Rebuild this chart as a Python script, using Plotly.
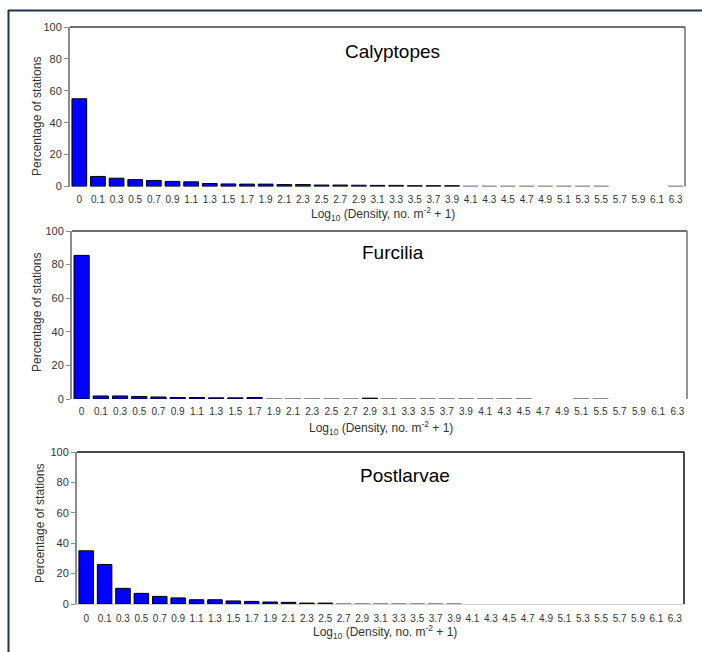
import plotly.graph_objects as go

W, H = 702, 652

# ---- data ----
cats_full = ["0", "0.1", "0.3", "0.5", "0.7", "0.9", "1.1", "1.3", "1.5", "1.7", "1.9",
             "2.1", "2.3", "2.5", "2.7", "2.9", "3.1", "3.3", "3.5", "3.7", "3.9",
             "4.1", "4.3", "4.5", "4.7", "4.9", "5.1", "5.3", "5.5", "5.7", "5.9", "6.1", "6.3"]
cats_furcilia = ["0", "0.1", "0.3", "0.5", "0.7", "0.9", "1.1", "1.3", "1.5", "1.7", "1.9",
                 "2.1", "2.3", "2.5", "2.7", "2.9", "3.1", "3.3", "3.5", "3.7", "3.9",
                 "4.1", "4.3", "4.5", "4.7", "4.9", "5.1", "5.5", "5.7", "5.9", "6.1", "6.3"]

calyptopes = [55, 6.3, 5.2, 4.3, 3.8, 3.2, 2.9, 1.9, 1.6, 1.5, 1.5,
              1.2, 1.2, 0.9, 0.9, 0.8, 0.7, 0.7, 0.5, 0.5, 0.5,
              0.3, 0.3, 0.3, 0.3, 0.3, 0.3, 0.3, 0.3, 0, 0, 0, 0.3]
furcilia = [85.5, 1.8, 1.8, 1.5, 1.2, 0.9, 0.9, 0.7, 0.7, 0.9, 0.3,
            0.3, 0.3, 0.3, 0.2, 0.5, 0.3, 0.3, 0.3, 0.3, 0.3,
            0.3, 0.3, 0.3, 0, 0, 0.3, 0.3, 0, 0, 0, 0]
postlarvae = [35, 26, 10.3, 7, 5, 4, 2.8, 2.8, 2, 1.7, 1.3,
              1.1, 0.6, 0.6, 0.2, 0.2, 0.2, 0.2, 0.2, 0.2, 0.2,
              0, 0, 0, 0, 0, 0, 0, 0, 0, 0, 0, 0]

titles = ["Calyptopes", "Furcilia", "Postlarvae"]
y_ticks = [0, 20, 40, 60, 80, 100]

# ---- layout geometry (pixels) ----
panels = [
    dict(cats=cats_full, vals=calyptopes, x0=70, x1=685, ytop=27, ybot=186.5,
         title=(392, 52), ytitle=(37, 117), xtitle=(383, 214)),
    dict(cats=cats_furcilia, vals=furcilia, x0=72, x1=687, ytop=231, ybot=399,
         title=(393, 252), ytitle=(37, 313), xtitle=(381, 428)),
    dict(cats=cats_full, vals=postlarvae, x0=77, x1=684, ytop=452, ybot=604,
         title=(405, 475), ytitle=(40, 524), xtitle=(385, 632)),
]

def px(x):
    return x / W

def py(y):
    return 1 - y / H

fig = go.Figure()
FONT = "Liberation Sans, Arial, sans-serif"
shapes = []
annotations = []

for i, p in enumerate(panels):
    n = "" if i == 0 else str(i + 1)
    xa, ya = "x" + n, "y" + n
    vals = p["vals"]
    line_w = [0 if v == 0 else 1 for v in vals]
    line_c = ["#8a8a8a" if v < 0.4 else "#000000" for v in vals]
    fig.add_trace(go.Bar(
        x=p["cats"], y=vals, xaxis=xa, yaxis=ya,
        marker=dict(color="#0000FF", line=dict(color=line_c, width=line_w)),
        showlegend=False, hoverinfo="x+y",
    ))
    fig.layout["xaxis" + n] = dict(
        domain=[px(p["x0"]), px(p["x1"])], anchor=ya, type="category",
        categoryorder="array", categoryarray=p["cats"],
        showgrid=False, zeroline=False, showline=(i == 2),
        linecolor="#d0d0d0", linewidth=1,
        ticks="", tickfont=dict(family=FONT, size=10, color="#333333"),
        tickangle=0, ticklabelstandoff=5, fixedrange=True,
    )
    fig.layout["yaxis" + n] = dict(
        domain=[py(p["ybot"]), py(p["ytop"])], anchor=xa,
        range=[0, 100], tickvals=y_ticks, showgrid=False, zeroline=False,
        showline=True, linecolor="#8c8c8c", linewidth=2,
        ticks="outside", ticklen=4, tickcolor="#8c8c8c",
        tickfont=dict(family=FONT, size=11, color="#333333"), fixedrange=True,
    )
    # top and right frame lines
    shapes.append(dict(type="line", xref=xa + " domain", yref=ya + " domain",
                       x0=0, x1=1, y0=1, y1=1,
                       line=dict(color="#404040" if i < 2 else "#111111", width=1.5)))
    shapes.append(dict(type="line", xref=xa + " domain", yref=ya + " domain",
                       x0=1, x1=1, y0=0, y1=1,
                       line=dict(color="#707070" if i < 2 else "#111111", width=1.5)))
    # panel title
    tx, ty = p["title"]
    annotations.append(dict(text=titles[i], x=px(tx), y=py(ty), xref="paper", yref="paper",
                            showarrow=False, xanchor="center", yanchor="middle",
                            font=dict(family=FONT, size=19, color="#000000")))
    # y title
    yx, yy = p["ytitle"]
    annotations.append(dict(text="Percentage of stations", x=px(yx), y=py(yy),
                            xref="paper", yref="paper", showarrow=False, textangle=-90,
                            xanchor="center", yanchor="middle",
                            font=dict(family=FONT, size=12, color="#333333")))
    # x title
    xx, xy = p["xtitle"]
    annotations.append(dict(text="Log<sub>10</sub> (Density, no. m<sup>-2</sup> + 1)",
                            x=px(xx), y=py(xy), xref="paper", yref="paper",
                            showarrow=False, xanchor="center", yanchor="middle",
                            font=dict(family=FONT, size=12, color="#333333")))

# outer frame (top and left edges)
shapes.append(dict(type="line", xref="paper", yref="paper", x0=px(8), x1=px(702),
                   y0=py(10.5), y1=py(10.5), line=dict(color="#1e3448", width=2)))
shapes.append(dict(type="line", xref="paper", yref="paper", x0=px(8.5), x1=px(8.5),
                   y0=py(10), y1=py(652), line=dict(color="#1e3448", width=2)))

fig.update_layout(
    width=W, height=H, margin=dict(l=0, r=0, t=0, b=0, autoexpand=False),
    paper_bgcolor="white", plot_bgcolor="white", bargap=0.21,
    shapes=shapes, annotations=annotations,
    font=dict(family=FONT),
)

fig.write_html("out.html", config={"displayModeBar": False})
